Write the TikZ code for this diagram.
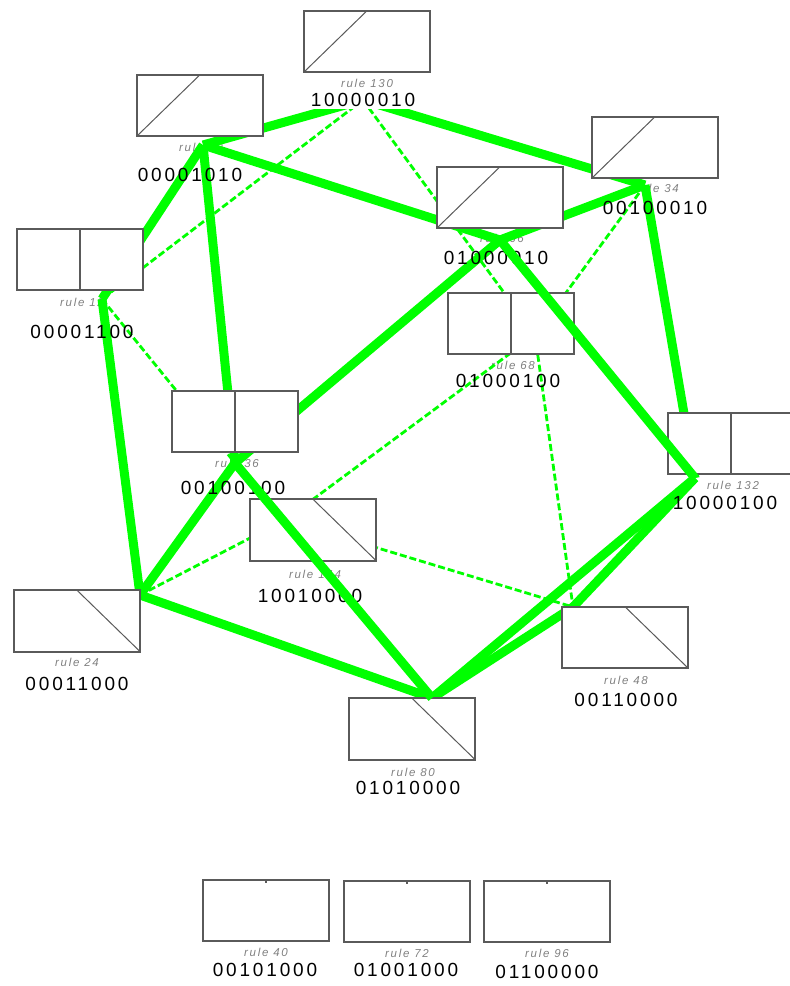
\documentclass[tikz,border=0pt]{standalone}
\usepackage{fontspec}
\setmainfont{Liberation Sans}
\newfontfamily\bitsfont[LetterSpace=15]{Liberation Sans}
\newfontfamily\rulefont[LetterSpace=15]{Liberation Sans}
\definecolor{edgegreen}{RGB}{0,255,0}
\definecolor{framegray}{RGB}{90,90,90}

\begin{document}
\begin{tikzpicture}[x=1pt, y=-1pt]
\tikzset{
  rulebox/.style={
    draw=framegray, line width=1.6pt, fill=white, rectangle,
    minimum width=126.5pt, minimum height=61.5pt, inner sep=0pt
  },
  rise/.style={rulebox, path picture={\draw[line width=1pt] (path picture bounding box.south west) -- (path picture bounding box.north);}},
  split/.style={rulebox, path picture={\draw[line width=1.4pt] (path picture bounding box.south) -- (path picture bounding box.north);}},
  fall/.style={rulebox, path picture={\draw[line width=1pt] (path picture bounding box.north) -- (path picture bounding box.south east);}},
  blank/.style={rulebox, path picture={\draw[line width=1.5pt] (path picture bounding box.north) -- ++(0,3);}},
  rulelbl/.style={font=\rulefont\itshape\fontsize{11.5}{12}\selectfont, text=black!50, inner sep=0pt},
  bits/.style={font=\bitsfont\fontsize{19}{21}\selectfont, inner sep=0pt},
  strong/.style={draw=edgegreen, line width=9pt},
  weak/.style={draw=edgegreen, line width=2.8pt, dash pattern=on 7pt off 3pt}
}
\useasboundingbox (0,0) rectangle (790,986);

% Hubs where the connectors meet
\coordinate (h130) at (363,100);
\coordinate (h10)  at (203,145);
\coordinate (h34)  at (645,185);
\coordinate (h66)  at (500,240);
\coordinate (h12)  at (102,299);
\coordinate (h68)  at (535,335);
\coordinate (h36)  at (235,463);
\coordinate (h132) at (695,478);
\coordinate (h144) at (285,520);
\coordinate (h24)  at (140,595);
\coordinate (h48)  at (573,607);
\coordinate (h80)  at (432,698);

% Rule names
\node[rulelbl] (l130) at (367,83)  {rule 130};
\node[rulelbl] (l10)  at (201,147) {rule 10};
\node[rulelbl] (l34)  at (657,188) {rule 34};
\node[rulelbl] (l66)  at (502,238) {rule 66};
\node[rulelbl] (l12)  at (82,302)  {rule 12};
\node[rulelbl] (l68)  at (513,365) {rule 68};
\node[rulelbl] (l36)  at (237,463) {rule 36};
\node[rulelbl] (l132) at (733,485) {rule 132};
\node[rulelbl] (l144) at (315,574) {rule 144};
\node[rulelbl] (l24)  at (77,662)  {rule 24};
\node[rulelbl] (l48)  at (626,680) {rule 48};
\node[rulelbl] (l80)  at (413,772) {rule 80};
\node[rulelbl] (l40)  at (266,952) {rule 40};
\node[rulelbl] (l72)  at (407,953) {rule 72};
\node[rulelbl] (l96)  at (547,953) {rule 96};

% Connectors
\draw[strong] (h130) -- (h10);
\draw[strong] (h130) -- (h34);
\draw[strong] (h10) -- (h66);
\draw[strong] (h10) -- (h12);
\draw[strong] (h10) -- (h36);
\draw[strong] (h66) -- (h34);
\draw[strong] (h66) -- (h36);
\draw[strong] (h34) -- (h132);
\draw[strong] (h12) -- (h24);
\draw[strong] (h36) -- (h24);
\draw[strong] (h24) -- (h80);
\draw[strong] (h132) -- (h80);
\draw[strong] (h132) -- (h48);
\draw[strong] (h48) -- (h80);
\draw[weak] (h130) -- (h12);
\draw[weak] (h130) -- (h68);
\draw[weak] (h12) -- (h36);
\draw[weak] (h34) -- (h68);
\draw[weak] (h68) -- (h144);
\draw[weak] (h68) -- (h48);
\draw[weak] (h24) -- (h144);
\draw[weak] (h144) -- (h48);

% Rule boxes
\node[rise]  (r130) at (367,41.5)  {};
\node[rise]  (r10)  at (200,105.5) {};
\node[rise]  (r34)  at (655,147.5) {};
\node[rise]  (r66)  at (500,197.5) {};
\node[split] (r12)  at (80,259.5)  {};
\node[split] (r68)  at (511,323.5) {};
\node[split] (r36)  at (235,421.5) {};
\node[split] (r132) at (731,443.5) {};
\node[fall]  (r144) at (313,530)   {};
\node[fall]  (r24)  at (77,621)    {};
\node[fall]  (r48)  at (625,637.5) {};
\node[fall]  (r80)  at (412,729)   {};
\node[blank] (r40)  at (266,910.5) {};
\node[blank] (r72)  at (407,911.5) {};
\node[blank] (r96)  at (547,911.5) {};

% Codes
\node[bits, fill=white, inner sep=2pt] (b130) at (363,100) {10000010};
\node[bits] (b10)  at (190,175) {00001010};
\node[bits] (b34)  at (655,208) {00100010};
\node[bits] (b66)  at (496,258) {01000010};
\node[bits] (b12)  at (82,332)  {00001100};
\node[bits] (b68)  at (508,381) {01000100};
\node[bits] (b36)  at (233,488) {00100100};
\node[bits] (b132) at (725,503) {10000100};
\node[bits] (b144) at (310,596) {10010000};
\node[bits] (b24)  at (77,684)  {00011000};
\node[bits] (b48)  at (626,700) {00110000};
\node[bits] (b80)  at (408,788) {01010000};
\node[bits] (b40)  at (265,970) {00101000};
\node[bits] (b72)  at (406,970) {01001000};
\node[bits] (b96)  at (547,972) {01100000};

% Connectors drawn across boxes
\draw[strong] (h66) -- (h132);
\draw[strong] (h36) -- (h80);
\end{tikzpicture}
\end{document}
